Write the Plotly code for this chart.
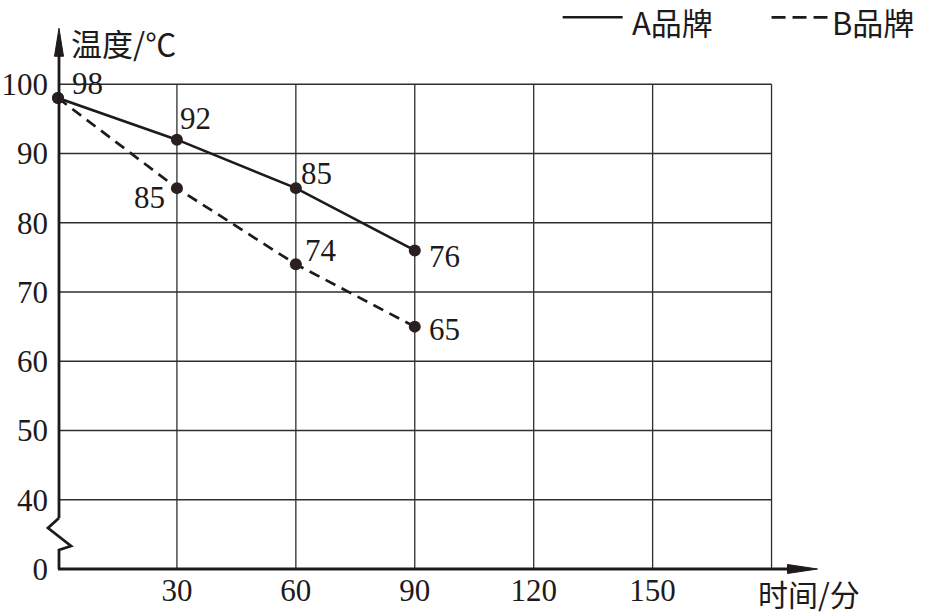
import plotly.graph_objects as go

# ---- data ----
times = [0, 30, 60, 90]
brand_a = [98, 92, 85, 76]
brand_b = [98, 85, 74, 65]
x_tick_vals = [30, 60, 90, 120, 150]
x_tick_text = ["30", "60", "90", "120", "150"]
y_tick_vals = [30, 40, 50, 60, 70, 80, 90, 100]   # 30 stands for the broken-axis "0"
y_tick_text = ["0", "40", "50", "60", "70", "80", "90", "100"]
x_grid = [30, 60, 90, 120, 150, 180]
y_grid = [40, 50, 60, 70, 80, 90, 100]
name_a = "A品牌"
name_b = "B品牌"
x_title = "时间/分"
y_title = "温度/℃"

# ---- geometry (pixels) ----
FIG_W, FIG_H = 925, 615
L, R, B, T = 58, 831.5, 569, 14.7
PW, PH = R - L, B - T
XR = [0, 195]
YR = [30, 110]

def xp(px):
    return (px - L) / PW

def yp(py):
    return (B - py) / PH

INK = "#1e1a1a"
NUMFONT = "Liberation Serif"
CJK = "Noto Sans CJK SC"

fig = go.Figure()

fig.add_trace(go.Scatter(x=times, y=brand_a, mode="lines+markers", name=name_a,
                         line=dict(color=INK, width=2.6),
                         marker=dict(color="#2a2020", size=12),
                         showlegend=False, cliponaxis=False))
fig.add_trace(go.Scatter(x=times, y=brand_b, mode="lines+markers", name=name_b,
                         line=dict(color=INK, width=2.7, dash="11px,7px"),
                         marker=dict(color="#2a2020", size=12),
                         showlegend=False, cliponaxis=False))

shapes = []
# grid
for gx in x_grid:
    shapes.append(dict(type="line", xref="x", yref="y", x0=gx, x1=gx, y0=YR[0], y1=100,
                       line=dict(color="#2e2e2e", width=1.3), layer="below"))
for gy in y_grid:
    shapes.append(dict(type="line", xref="x", yref="y", x0=0, x1=180, y0=gy, y1=gy,
                       line=dict(color="#2e2e2e", width=1.3), layer="below"))

# axes (decorative, in paper coordinates)
AXW = 2.8
shapes.append(dict(type="line", xref="paper", yref="paper",
                   x0=xp(58), x1=xp(795), y0=yp(569), y1=yp(569),
                   line=dict(color=INK, width=AXW)))
shapes.append(dict(type="path", xref="paper", yref="paper",
                   path=f"M {xp(818)},{yp(569)} L {xp(788)},{yp(564.5)} L {xp(788)},{yp(573.5)} Z",
                   fillcolor=INK, line=dict(color=INK, width=1)))
shapes.append(dict(type="line", xref="paper", yref="paper",
                   x0=xp(59), x1=xp(59), y0=yp(518), y1=yp(50),
                   line=dict(color=INK, width=AXW)))
shapes.append(dict(type="path", xref="paper", yref="paper",
                   path=f"M {xp(59)},{yp(28)} L {xp(54.5)},{yp(56)} L {xp(63.5)},{yp(56)} Z",
                   fillcolor=INK, line=dict(color=INK, width=1)))
shapes.append(dict(type="path", xref="paper", yref="paper",
                   path=(f"M {xp(59)},{yp(518)} L {xp(48)},{yp(528)} L {xp(71)},{yp(546)} "
                         f"L {xp(59)},{yp(550)} L {xp(59)},{yp(569)}"),
                   line=dict(color=INK, width=AXW)))

# legend (custom)
shapes.append(dict(type="line", xref="paper", yref="paper",
                   x0=xp(563), x1=xp(623), y0=yp(17), y1=yp(17),
                   line=dict(color=INK, width=2.6)))
shapes.append(dict(type="line", xref="paper", yref="paper",
                   x0=xp(772), x1=xp(828), y0=yp(17), y1=yp(17),
                   line=dict(color=INK, width=2.8, dash="14px,7px")))

annotations = []
annotations.append(dict(xref="paper", yref="paper", x=xp(630), y=yp(21), text=name_a,
                        showarrow=False, xanchor="left", yanchor="middle",
                        font=dict(family=CJK, size=31, color=INK)))
annotations.append(dict(xref="paper", yref="paper", x=xp(830), y=yp(21), text=name_b,
                        showarrow=False, xanchor="left", yanchor="middle",
                        font=dict(family=CJK, size=31, color=INK)))
annotations.append(dict(xref="paper", yref="paper", x=xp(69), y=yp(42), text=y_title,
                        showarrow=False, xanchor="left", yanchor="middle",
                        font=dict(family=CJK, size=31, color=INK)))
annotations.append(dict(xref="paper", yref="paper", x=xp(756), y=yp(593), text=x_title,
                        showarrow=False, xanchor="left", yanchor="middle",
                        font=dict(family=CJK, size=30, color=INK)))

# point labels: (xanchor, xshift, yshift) per point
a_style = [("left", 12, 15), ("left", 1, 21), ("left", 3, 15), ("left", 12, -6)]
b_style = [None, ("right", -10, -9), ("left", 7, 14), ("left", 12, -3)]
for xs, ys, styles in ((times, brand_a, a_style), (times, brand_b, b_style)):
    for xv, yv, st in zip(xs, ys, styles):
        if st is None:
            continue
        anc, dx, dy = st
        annotations.append(dict(xref="x", yref="y", x=xv, y=yv, text=str(yv),
                                showarrow=False, xanchor=anc, yanchor="middle",
                                xshift=dx, yshift=dy,
                                font=dict(family=NUMFONT, size=31, color=INK)))

fig.update_layout(
    width=FIG_W, height=FIG_H,
    margin=dict(l=L, r=FIG_W - R, t=T, b=FIG_H - B, pad=0, autoexpand=False),
    paper_bgcolor="white", plot_bgcolor="white",
    shapes=shapes, annotations=annotations,
    showlegend=False,
    xaxis=dict(range=XR, tickvals=x_tick_vals, ticktext=x_tick_text,
               showgrid=False, zeroline=False, showline=False, ticks="",
               ticklabelstandoff=0, automargin=False,
               tickfont=dict(family=NUMFONT, size=31, color=INK)),
    yaxis=dict(range=YR, tickvals=y_tick_vals, ticktext=y_tick_text,
               showgrid=False, zeroline=False, showline=False, ticks="",
               ticklabelstandoff=9, automargin=False,
               tickfont=dict(family=NUMFONT, size=31, color=INK)),
)

fig.write_html("out.html")
